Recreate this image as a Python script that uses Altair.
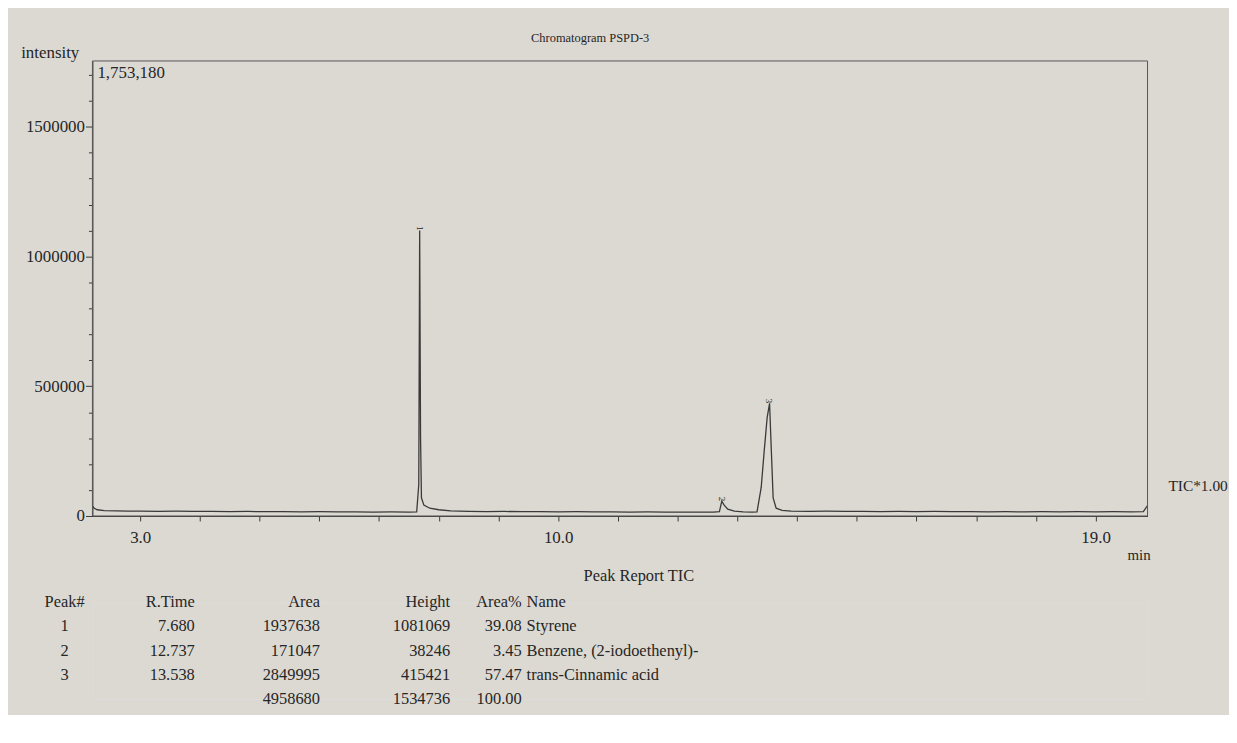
import altair as alt
import pandas as pd

# ---- chromatogram trace ----
time_min = [2.20, 2.23, 2.28, 2.40, 2.60, 2.80, 3.00, 3.30, 3.60, 3.90, 4.20, 4.50, 4.80,
            5.10, 5.40, 5.70, 6.00, 6.30, 6.60, 6.90, 7.20, 7.50, 7.63, 7.665, 7.68, 7.695,
            7.71, 7.75, 7.85, 8.00, 8.20, 8.50, 8.80, 9.10, 9.40, 9.70, 10.00, 10.30, 10.60,
            10.90, 11.20, 11.50, 11.80, 12.10, 12.40, 12.60, 12.70, 12.74, 12.78, 12.84,
            12.95, 13.10, 13.25, 13.33, 13.40, 13.45, 13.50, 13.54, 13.57, 13.60, 13.65,
            13.75, 13.90, 14.20, 14.50, 14.80, 15.10, 15.40, 15.70, 16.00, 16.30, 16.60,
            16.90, 17.20, 17.50, 17.80, 18.10, 18.40, 18.70, 19.00, 19.30, 19.60, 19.80, 19.87]
intensity = [38000, 30000, 24000, 21000, 19500, 19000, 18500, 18000, 18500, 17500, 18000,
             17000, 17500, 16500, 17000, 16000, 16500, 15500, 16000, 15000, 15500, 15000,
             15500, 120000, 1100000, 300000, 70000, 42000, 30000, 24000, 20000, 18000, 17000,
             17500, 16500, 17000, 16000, 16500, 15500, 16000, 15000, 15500, 14500, 15000,
             14500, 15000, 17000, 57000, 42000, 26000, 19000, 16000, 15000, 16000, 110000,
             250000, 380000, 434000, 250000, 70000, 30000, 22000, 19000, 18000, 18500, 17500,
             18000, 17000, 17500, 17000, 17500, 16500, 17000, 16000, 16500, 16000, 16500,
             16000, 16500, 16000, 16500, 16000, 17000, 40000]

x_min, x_max = 2.2, 19.87
y_max = 1753180
x_tick_values = list(range(3, 20))
x_label_values = [3, 10, 19]
y_tick_values = list(range(0, 1800000, 100000))

# ---- peak report ----
peak_no = ["1", "2", "3"]
r_time = [7.680, 12.737, 13.538]
area = [1937638, 171047, 2849995]
height = [1081069, 38246, 415421]
area_pct = [39.08, 3.45, 57.47]
names = ["Styrene", "Benzene, (2-iodoethenyl)-", "trans-Cinnamic acid"]
headers = ["Peak#", "R.Time", "Area", "Height", "Area%", "Name"]

TXT = "#262626"
LINE = "#3a3a3a"
FRAME = "#555555"
FONT = "Liberation Serif"

trace = pd.DataFrame({"t": time_min, "i": intensity})
peaks = pd.DataFrame({"t": r_time, "h": height, "n": peak_no})

x_scale = alt.Scale(domain=[x_min, x_max], nice=False, zero=False)
y_scale = alt.Scale(domain=[0, y_max], nice=False)

x_axis = alt.Axis(
    values=x_tick_values, tickCount=40,
    labelExpr="indexof(%s, datum.value) >= 0 ? format(datum.value, '.1f') : ''" % str(x_label_values),
    tickSize=5, labelPadding=9, labelFontSize=17, labelFont=FONT, labelColor=TXT,
    labelFlush=False, labelOverlap=False, grid=False,
    domainColor=LINE, tickColor=LINE,
    title="min", titleX=1053, titleY=39, titleAlign="center", titleBaseline="middle",
    titleFontSize=15, titleFontWeight="normal", titleFont=FONT, titleColor=TXT,
)
y_axis = alt.Axis(
    values=y_tick_values, tickCount=40,
    labelExpr="datum.value % 500000 == 0 ? format(datum.value, 'd') : ''",
    tickSize={"condition": {"test": "datum.value % 500000 == 0", "value": 7}, "value": 4},
    labelPadding=1, labelFontSize=17, labelFont=FONT, labelColor=TXT,
    labelOverlap=False, grid=False, domainColor=LINE, tickColor=LINE,
    title="intensity", titleAngle=0, titleX=-43, titleY=-8, titleAlign="center",
    titleBaseline="middle", titleFontSize=17, titleFontWeight="normal", titleFont=FONT,
    titleColor=TXT,
)

frame = alt.Chart(pd.DataFrame({"a": [0]})).mark_rect(
    filled=False, stroke=FRAME, strokeWidth=1
).encode(
    x=alt.datum(x_min, scale=x_scale), x2=alt.datum(x_max),
    y=alt.datum(0, scale=y_scale), y2=alt.datum(y_max),
)

line = alt.Chart(trace).mark_line(color=LINE, strokeWidth=1.3, clip=True).encode(
    x=alt.X("t:Q", scale=x_scale, axis=x_axis),
    y=alt.Y("i:Q", scale=y_scale, axis=y_axis),
)

markers = alt.Chart(peaks).mark_text(
    angle=90, align="right", baseline="middle", dx=-5, fontSize=9, font=FONT, color=TXT
).encode(x=alt.X("t:Q", scale=x_scale), y=alt.Y("h:Q", scale=y_scale), text="n:N")

max_label = alt.Chart(pd.DataFrame({"s": [f"{y_max:,}"]})).mark_text(
    align="left", baseline="middle", fontSize=17, font=FONT, color=TXT
).encode(x=alt.value(5), y=alt.value(12), text="s:N")

tic_label = alt.Chart(pd.DataFrame({"s": ["TIC*1.00"]})).mark_text(
    align="left", baseline="middle", fontSize=15.5, font=FONT, color=TXT
).encode(x=alt.value(1083), y=alt.value(428), text="s:N")

top = alt.layer(line, frame, markers, max_label, tic_label).properties(
    width=1062, height=458,
    title=alt.TitleParams("Chromatogram PSPD-3", fontSize=12.5, fontWeight="normal", font=FONT,
                          color=TXT, anchor="middle", frame="group", dx=-30, offset=0),
)

# ---- table chart ----
rows = ["hdr", "r1", "r2", "r3", "tot"]
tot_area = sum(area)
tot_height = sum(height)
tot_pct = sum(area_pct)

col_values = {
    "peak": [headers[0]] + peak_no + [""],
    "rtime": [headers[1]] + [f"{v:.3f}" for v in r_time] + [""],
    "area": [headers[2]] + [str(v) for v in area] + [str(tot_area)],
    "height": [headers[3]] + [str(v) for v in height] + [str(tot_height)],
    "pct": [headers[4]] + [f"{v:.2f}" for v in area_pct] + [f"{tot_pct:.2f}"],
    "name": [headers[5]] + names + [""],
}
col_style = {
    "peak": (-28, "center"),
    "rtime": (103, "right"),
    "area": (229, "right"),
    "height": (360, "right"),
    "pct": (432, "right"),
    "name": (437, "left"),
}

y_rows = alt.Y("row:N", sort=rows, scale=alt.Scale(domain=rows, padding=0), axis=None)
table_layers = []
for key, vals in col_values.items():
    px, al = col_style[key]
    df = pd.DataFrame({"row": rows, "txt": vals})
    table_layers.append(
        alt.Chart(df).mark_text(align=al, baseline="middle", fontSize=16.5, font=FONT, color=TXT)
        .encode(x=alt.value(px), y=y_rows, text="txt:N")
    )

table = alt.layer(*table_layers).properties(
    width=1062, height=97,
    title=alt.TitleParams("Peak Report TIC", fontSize=16.5, fontWeight="normal", font=FONT,
                          color=TXT, anchor="middle", frame="group", dx=19, offset=10),
)

chart = alt.vconcat(top, table, spacing=4).properties(
    padding={"left": 12, "top": 21, "right": 0, "bottom": 5},
    background="#dcd9d2",
).configure_view(stroke="transparent", strokeWidth=0).configure(font=FONT)

chart.save("out.html", embed_options={"renderer": "svg", "actions": False})
